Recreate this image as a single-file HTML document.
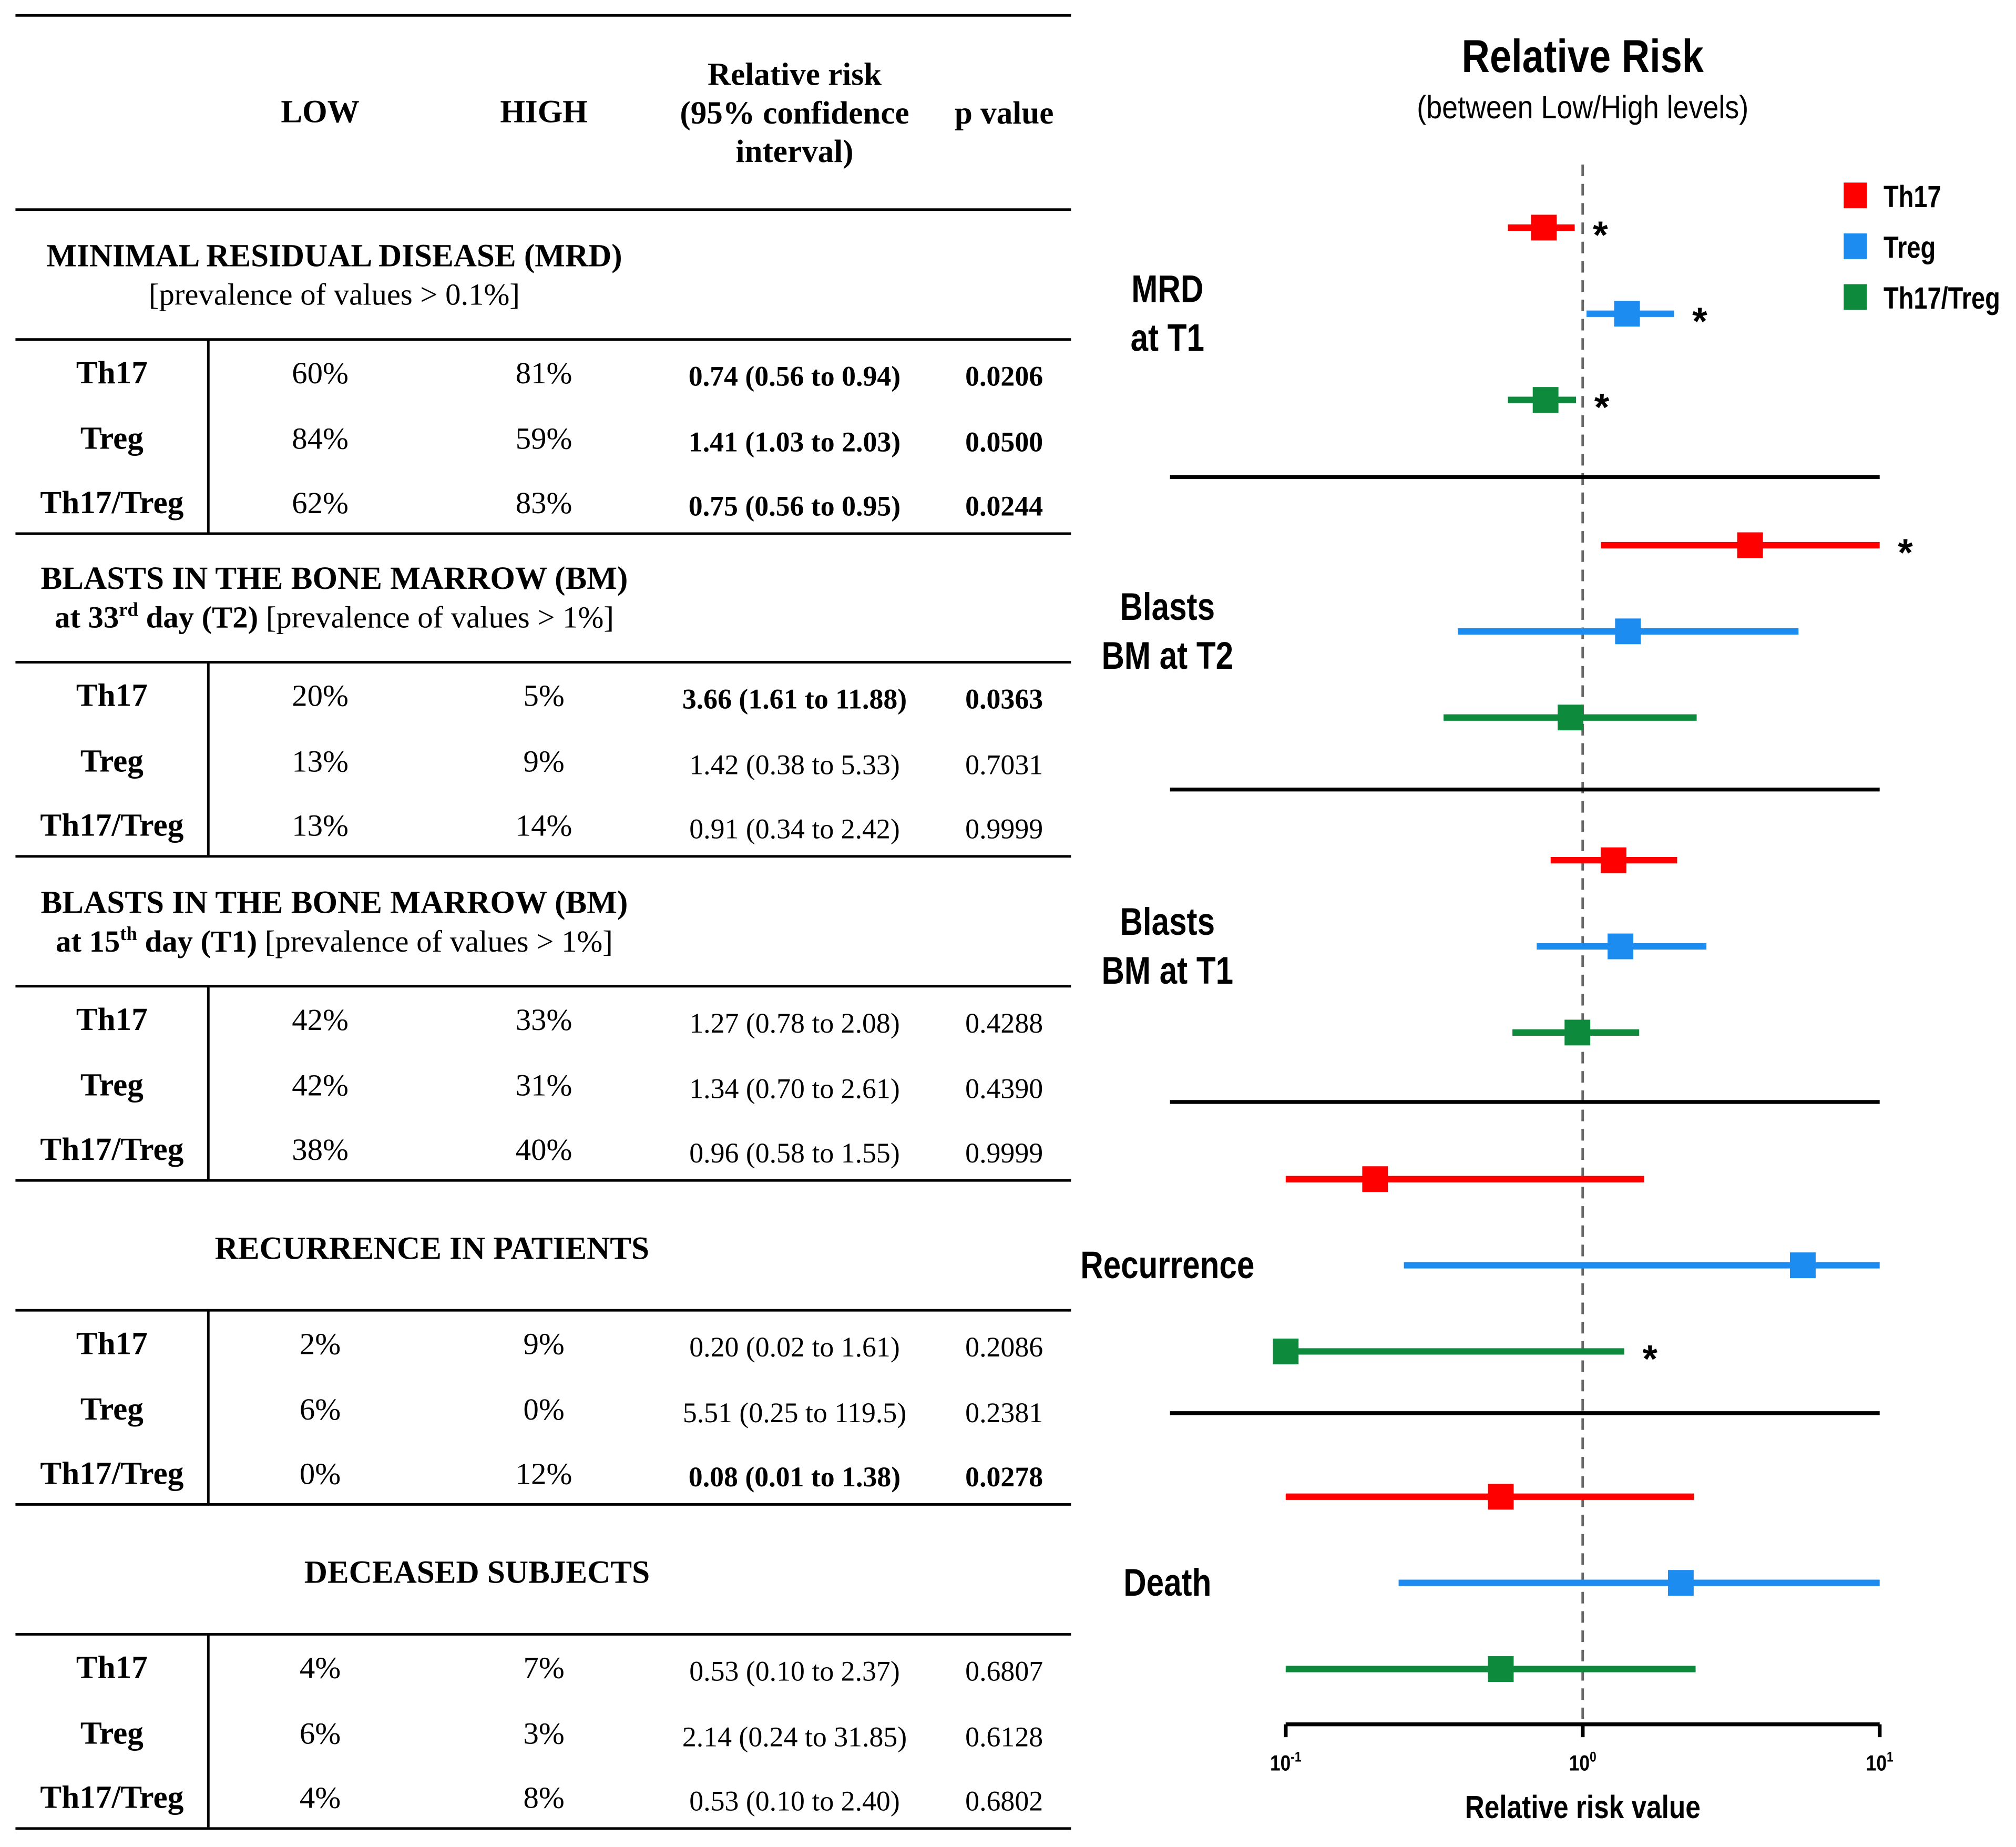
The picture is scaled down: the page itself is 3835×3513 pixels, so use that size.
<!DOCTYPE html>
<html><head><meta charset="utf-8"><style>
html,body{margin:0;padding:0;background:#fff}
svg{display:block}
.t{font-family:"Liberation Serif",serif;fill:#000}
.c{font-family:"Liberation Sans",sans-serif;fill:#000}
</style></head><body>
<svg id="root" width="3835" height="3513" viewBox="0 0 1568 1436.4" xmlns="http://www.w3.org/2000/svg">
<g id="table"></g>
<g id="chart"></g>
</svg>
<script>
const NS="http://www.w3.org/2000/svg";
function mk(parent,tag,attrs,text){const e=document.createElementNS(NS,tag);for(const k in attrs)e.setAttribute(k,attrs[k]);if(text!==undefined)e.textContent=text;parent.appendChild(e);return e;}

// ---------- data ----------
const groupTitles=[["MINIMAL RESIDUAL DISEASE (MRD)","[prevalence of values > 0.1%]"],["BLASTS IN THE BONE MARROW (BM)",""],["BLASTS IN THE BONE MARROW (BM)",""],["RECURRENCE IN PATIENTS",""],["DECEASED SUBJECTS",""]];
const seriesNames=["Th17","Treg","Th17/Treg"];
const lowVals=[["60%","84%","62%"],["20%","13%","13%"],["42%","42%","38%"],["2%","6%","0%"],["4%","6%","4%"]];
const highVals=[["81%","59%","83%"],["5%","9%","14%"],["33%","31%","40%"],["9%","0%","12%"],["7%","3%","8%"]];
const rr=[[0.74,1.41,0.75],[3.66,1.42,0.91],[1.27,1.34,0.96],[0.20,5.51,0.08],[0.53,2.14,0.53]];
const rrLow=[[0.56,1.03,0.56],[1.15,0.38,0.34],[0.78,0.70,0.58],[0.02,0.25,0.01],[0.10,0.24,0.10]];
const rrHigh=[[0.94,2.03,0.95],[11.88,5.33,2.42],[2.08,2.61,1.55],[1.61,119.5,1.38],[2.37,31.85,2.40]];
const rrText=[["0.74 (0.56 to 0.94)","1.41 (1.03 to 2.03)","0.75 (0.56 to 0.95)"],["3.66 (1.61 to 11.88)","1.42 (0.38 to 5.33)","0.91 (0.34 to 2.42)"],["1.27 (0.78 to 2.08)","1.34 (0.70 to 2.61)","0.96 (0.58 to 1.55)"],["0.20 (0.02 to 1.61)","5.51 (0.25 to 119.5)","0.08 (0.01 to 1.38)"],["0.53 (0.10 to 2.37)","2.14 (0.24 to 31.85)","0.53 (0.10 to 2.40)"]];
const pVals=[["0.0206","0.0500","0.0244"],["0.0363","0.7031","0.9999"],["0.4288","0.4390","0.9999"],["0.2086","0.2381","0.0278"],["0.6807","0.6128","0.6802"]];
const significant=[[1,1,1],[1,0,0],[0,0,0],[0,0,1],[0,0,0]];
const chartLabels=[["MRD","at T1"],["Blasts","BM at T2"],["Blasts","BM at T1"],["Recurrence"],["Death"]];
const colors=["#ff0000","#1c8cf0","#0e8a3c"];
const tickLabels=["10","10","10"];const tickExp=["-1","0","1"];const tickVals=[0.1,1,10];

// ---------- table ----------
const T=document.getElementById('table');
function line(x1,y1,x2,y2,w,name){const l=mk(T,'line',{x1,y1,x2,y2,stroke:'#000','stroke-width':w});}
line(12,12,833,12,2,'table-top-rule');line(12,163,833,163,2,'header-rule');
const hdr=[["LOW",249,87],["HIGH",423,87],["Relative risk",618,58],["(95% confidence",618,88],["interval)",618,118],["p value",781,88]];
hdr.forEach(h=>{const e=mk(T,'text',{x:h[1],y:h[2]+8,'text-anchor':'middle','font-size':25,'font-weight':'bold',class:'t'},h[0]);});
const secTop=[163,414,666,918,1170];
for(let g=0;g<5;g++){
  const top=secTop[g];
  const t1=mk(T,'text',{x:260,y:top+44,'text-anchor':'middle','font-size':25,'font-weight':'bold',class:'t'});
  if(g>=3){t1.setAttribute('x',g==3?336:371);t1.setAttribute('y',top+61);}
  t1.textContent=groupTitles[g][0];
  
  
  if(g==0){const e=mk(T,'text',{x:260,y:top+74,'text-anchor':'middle','font-size':24,class:'t'},groupTitles[g][1]);}
  if(g==1||g==2){const e=mk(T,'text',{x:260,y:top+74,'text-anchor':'middle','font-size':24,class:'t'});
    mk(e,'tspan',{'font-weight':'bold'},g==1?'at 33':'at 15');mk(e,'tspan',{'font-weight':'bold','font-size':15,dy:-9},g==1?'rd':'th');mk(e,'tspan',{'font-weight':'bold',dy:9},g==1?' day (T2) ':' day (T1) ');mk(e,'tspan',{},'[prevalence of values > 1%]');
    }
  const lt=top+101;
  line(12,lt,833,lt,2,'section-rule');line(162,lt,162,lt+150,2,'row-label-divider');line(12,lt+151,833,lt+151,2,'section-bottom-rule');
  const rows=[lt+26,lt+77,lt+127];
  for(let i=0;i<3;i++){
    const y=rows[i]+8,b=significant[g][i];
    const cells=[[seriesNames[i],87,true,25],[lowVals[g][i],249,false,24],[highVals[g][i],423,false,24],[rrText[g][i],618,b,22],[pVals[g][i],781,b,22]];
    cells.forEach((c,k)=>{const e=mk(T,'text',{x:c[1],y:y+(k>=3?2:0),'text-anchor':'middle','font-size':c[3],'font-weight':c[2]?'bold':'normal',class:'t'},c[0]);});
  }
}

// ---------- chart ----------
const C=document.getElementById('chart');
function ct(parent,x,y,txt,size,bold,anchor,sx){const g=mk(parent,'g',{transform:`translate(${x},${y}) scale(${sx||0.82},1)`});const t=mk(g,'text',{x:0,y:0,'text-anchor':anchor||'middle','font-size':size,'font-weight':bold?'bold':'normal',class:'c'});if(txt!==null)t.textContent=txt;return t;}
const x0=1000,x1=1462,ymin=0.1,ymax=10;
function xs(v){v=Math.max(ymin,Math.min(ymax,v));return x0+(Math.log10(v)-Math.log10(ymin))/(Math.log10(ymax)-Math.log10(ymin))*(x1-x0);}
const groupY=[177,424,669,917,1164],rowGap=67;
let e;
e=ct(C,1231,56,'Relative Risk',36,true,'middle',0.84);
e=ct(C,1231,92,'(between Low/High levels)',25,false,'middle',0.88);
e=mk(C,'line',{x1:xs(1),y1:128,x2:xs(1),y2:1341,stroke:'#666','stroke-width':2,'stroke-dasharray':'9,6'});
[371,614,857,1099].forEach(y=>{const s=mk(C,'line',{x1:910,y1:y,x2:1462,y2:y,stroke:'#000','stroke-width':3});});
e=mk(C,'line',{x1:x0,y1:1341,x2:x1,y2:1341,stroke:'#000','stroke-width':3});
for(let i=0;i<tickVals.length;i++){const x=xs(tickVals[i]);
  const tk=mk(C,'line',{x1:x,y1:1341,x2:x,y2:1351,stroke:'#000','stroke-width':3});
  const tl=ct(C,x,1377,null,17,true,'middle',0.85);mk(tl,'tspan',{},tickLabels[i]);mk(tl,'tspan',{'font-size':11,dy:-7},tickExp[i]);
  }
e=ct(C,1231,1414,'Relative risk value',25,true,'middle',0.84);
for(let g=0;g<5;g++){
  const lab=chartLabels[g],cy=groupY[g]+rowGap;
  lab.forEach((t,k)=>{const l=ct(C,908,lab.length==1?cy+10:cy-19+k*38+10,t,30,true,'middle',0.82);});
  for(let i=0;i<3;i++){
    const y=groupY[g]+i*rowGap;
    const ci=mk(C,'line',{x1:xs(rrLow[g][i]),y1:y,x2:xs(rrHigh[g][i]),y2:y,stroke:colors[i],'stroke-width':5});
    
    const px=xs(rr[g][i]);
    const pt=mk(C,'rect',{x:px-10,y:y-10,width:20,height:20,fill:colors[i]});
    
    if(significant[g][i]){const s=mk(C,'text',{x:xs(rrHigh[g][i])+20,y:y+16,'text-anchor':'middle','font-size':30,'font-weight':'bold',class:'c'},'*');}
  }
}
// legend
for(let i=0;i<3;i++){const y=152+i*39.5;
  const g=mk(C,'g',{});
  mk(g,'rect',{x:1434,y:y-10,width:18,height:20,fill:colors[i]});
  ct(g,1465,y+9,seriesNames[i],24,true,'start',0.8);}
</script>
</body></html>
